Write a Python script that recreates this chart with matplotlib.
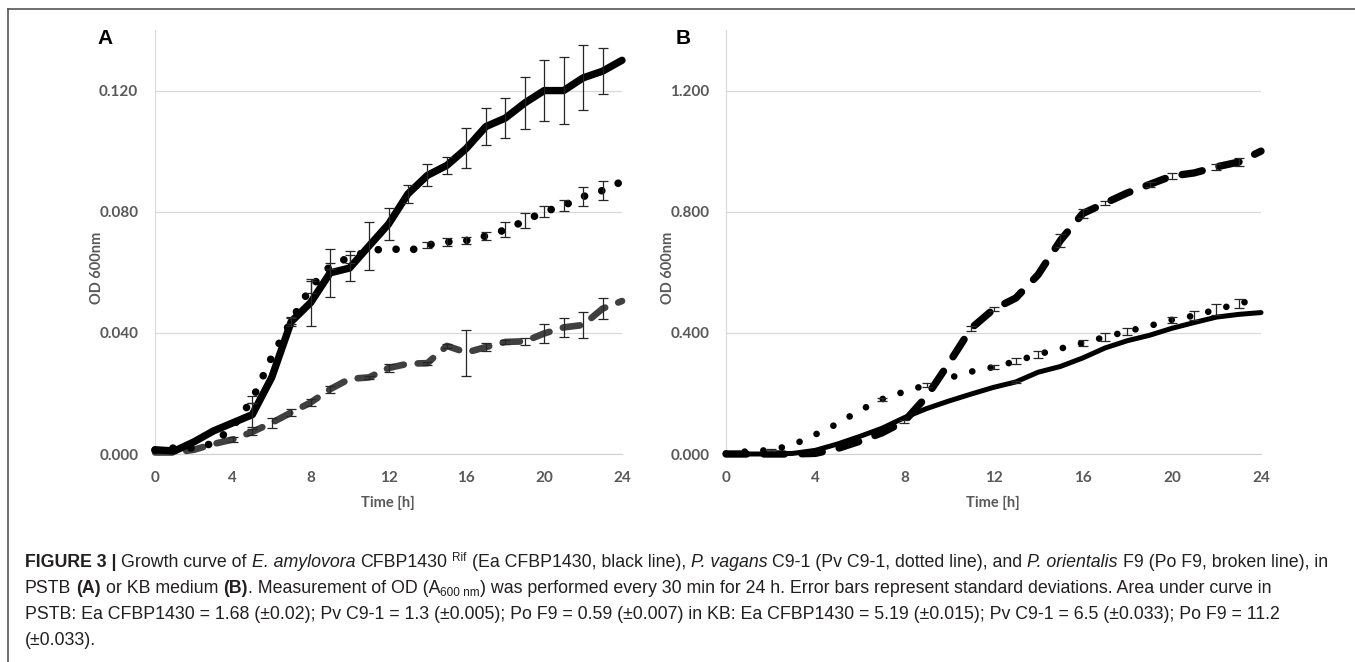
import matplotlib
matplotlib.use('Agg')
import matplotlib.pyplot as plt
from matplotlib.ticker import FormatStrFormatter
from matplotlib.transforms import IdentityTransform

# time points (h)
hours = list(range(25))

# panel A - PSTB
a_ea = [0.0014, 0.001, 0.004, 0.0076, 0.0103, 0.013, 0.0253, 0.0437, 0.050, 0.0598, 0.0614, 0.0687, 0.0759,
        0.0859, 0.092, 0.0953, 0.1009, 0.1081, 0.1109, 0.1159, 0.120, 0.120, 0.1242, 0.1264, 0.130]
a_ea_sd = [0, 0, 0, 0, 0, 0.004, 0, 0.0015, 0.0078, 0.008, 0.0043, 0.008, 0.0053, 0.003, 0.0036, 0.0027,
           0.0066, 0.006, 0.0067, 0.0087, 0.010, 0.011, 0.0107, 0.0076, 0]
a_pv = [0.0013, 0.002, 0.002, 0.0035, 0.009, 0.018, 0.032, 0.044, 0.055, 0.062, 0.065, 0.067, 0.068,
        0.067, 0.069, 0.070, 0.0705, 0.072, 0.074, 0.077, 0.080, 0.082, 0.085, 0.087, 0.090]
a_pv_sd = [0, 0, 0, 0, 0, 0.0012, 0, 0.001, 0.002, 0.001, 0.002, 0, 0, 0, 0.001, 0.0012, 0.001, 0.0012,
           0.0025, 0.0025, 0.0018, 0.0018, 0.003, 0.003, 0]
a_po = [0.0005, 0.0005, 0.0014, 0.0033, 0.0048, 0.0073, 0.0103, 0.0137, 0.017, 0.0214, 0.0248, 0.0253,
        0.0284, 0.0298, 0.030, 0.0357, 0.0335, 0.0353, 0.037, 0.0372, 0.0398, 0.0418, 0.0426, 0.048, 0.0505]
a_po_sd = [0, 0, 0, 0, 0.0008, 0.001, 0.0016, 0.0013, 0.0012, 0.0012, 0, 0.0006, 0.0012, 0, 0.0005, 0.0006,
           0.0076, 0.0013, 0.0008, 0.0012, 0.0032, 0.0032, 0.0042, 0.0035, 0]

# panel B - KB
b_ea = [0, 0, 0, 0.002, 0.012, 0.033, 0.058, 0.085, 0.12, 0.15, 0.175, 0.198, 0.22, 0.238, 0.27,
        0.289, 0.317, 0.35, 0.374, 0.392, 0.415, 0.434, 0.452, 0.461, 0.467]
b_ea_sd = [0, 0, 0, 0, 0, 0, 0, 0, 0, 0, 0, 0, 0, 0.004, 0, 0, 0, 0, 0, 0, 0, 0, 0, 0, 0]
b_pv = [0.002, 0.009, 0.013, 0.03, 0.064, 0.10, 0.144, 0.181, 0.206, 0.228, 0.251, 0.272, 0.287, 0.306,
        0.329, 0.348, 0.367, 0.386, 0.405, 0.423, 0.443, 0.457, 0.477, 0.497, 0.513]
b_pv_sd = [0, 0, 0.004, 0, 0, 0, 0, 0.005, 0, 0.006, 0, 0, 0.006, 0.01, 0.012, 0, 0.01, 0.012, 0.012, 0,
           0.01, 0.015, 0.018, 0.015, 0]
b_po = [0, 0, 0, 0, 0.002, 0.018, 0.042, 0.07, 0.108, 0.19, 0.30, 0.415, 0.478, 0.515, 0.592, 0.705,
        0.794, 0.828, 0.862, 0.89, 0.918, 0.928, 0.948, 0.964, 1.0]
b_po_sd = [0, 0, 0, 0, 0, 0, 0, 0, 0.005, 0, 0, 0.008, 0.006, 0, 0, 0.022, 0.015, 0.006, 0, 0.008, 0.01,
           0, 0.01, 0.012, 0]

xticks = [0, 4, 8, 12, 16, 20, 24]
a_yticks = [0.0, 0.04, 0.08, 0.12]
b_yticks = [0.0, 0.4, 0.8, 1.2]

W, H = 1355, 662
fig = plt.figure(figsize=(W / 100, H / 100), dpi=100)
fig.patch.set_facecolor('white')
px = IdentityTransform()


def add_axes_px(x0, x1, y_top, y_bot):
    return fig.add_axes([x0 / W, 1 - y_bot / H, (x1 - x0) / W, (y_bot - y_top) / H])


def style_axes(ax, ymax, yticks):
    ax.set_xlim(0, 24)
    ax.set_ylim(0, ymax)
    ax.set_xticks(xticks)
    ax.set_yticks(yticks)
    ax.yaxis.set_major_formatter(FormatStrFormatter('%.3f'))
    ax.grid(axis='y', color='#d9d9d9', lw=0.9)
    ax.set_axisbelow(True)
    for s in ['top', 'right']:
        ax.spines[s].set_visible(False)
    ax.spines['left'].set_color('#d9d9d9')
    ax.spines['bottom'].set_color('#d0d0d0')
    ax.tick_params(length=0, pad=12, labelcolor='#595959', labelsize=11)
    for lab in ax.get_xticklabels() + ax.get_yticklabels():
        lab.set_fontfamily('Lato')
        lab.set_fontweight('bold')


def curve(ax, y, sd, color, lw, ls):
    ax.plot(hours, y, color=color, lw=lw, linestyle=ls, dash_capstyle='round',
            solid_capstyle='round', solid_joinstyle='round', clip_on=False, zorder=3)
    idx = [i for i, e in enumerate(sd) if e > 0]
    ax.errorbar([hours[i] for i in idx], [y[i] for i in idx], yerr=[sd[i] for i in idx], fmt='none',
                ecolor='#262626', elinewidth=0.9, capsize=3.5, capthick=0.9, zorder=4)


axA = add_axes_px(155, 622, 30, 454)
style_axes(axA, 0.14, a_yticks)
curve(axA, a_po, a_po_sd, '#404040', 4.8, (0, (2.6, 2.1)))
curve(axA, a_pv, a_pv_sd, 'black', 5.5, (0, (0.01, 2.35)))
curve(axA, a_ea, a_ea_sd, 'black', 5.3, '-')

axB = add_axes_px(726, 1261, 30, 454)
style_axes(axB, 1.4, b_yticks)
curve(axB, b_ea, b_ea_sd, 'black', 3.6, '-')
curve(axB, b_pv, b_pv_sd, 'black', 4.8, (0, (0.01, 2.8)))
curve(axB, b_po, b_po_sd, 'black', 5.3, (0, (2.8, 2.35)))

lab_kw = dict(fontfamily='Lato', fontweight='bold', color='#595959', fontsize=10.5,
              ha='center', va='center', transform=px)
for cx in [97, 668]:
    fig.text(cx, H - 268, 'OD 600nm', rotation=90, **lab_kw)
fig.text(388, H - 503, 'Time [h]', **lab_kw)
fig.text(993, H - 503, 'Time [h]', **lab_kw)

fig.text(105, H - 39, 'A', fontfamily='Liberation Sans', fontweight='bold', fontsize=15,
         ha='center', va='center', transform=px)
fig.text(683, H - 39, 'B', fontfamily='Liberation Sans', fontweight='bold', fontsize=15,
         ha='center', va='center', transform=px)

# frame lines (top and left)
fig.add_artist(plt.Line2D([8, W], [H - 9, H - 9], transform=px, color='#555555', lw=1.2))
fig.add_artist(plt.Line2D([8, 8], [0, H - 9], transform=px, color='#555555', lw=1.2))

# caption
cap_size = 12.8
renderer = fig.canvas.get_renderer()
REG = dict()
BOLD = dict(fontweight='bold')
IT = dict(fontstyle='italic')
SUP = dict(fontsize=8.5, dy=6)
SUB = dict(fontsize=8.5, dy=-3)


def write_line(x, y_img, runs):
    y = H - y_img
    for text, kw in runs:
        kw = dict(kw)
        size = kw.pop('fontsize', cap_size)
        dy = kw.pop('dy', 0)
        if text == ' ':
            x += size * 100 / 72 * 0.278
            continue
        t = fig.text(x, y + dy, text, transform=px, fontfamily='Liberation Sans', fontsize=size,
                     color='#231f20', ha='left', va='baseline', **kw)
        x += t.get_window_extent(renderer).width


S = (' ', REG)
write_line(25, 567, [('FIGURE 3 |', BOLD), S, ('Growth curve of', REG), S, ('E. amylovora', IT), S,
                     ('CFBP1430', REG), S, ('Rif', SUP), S, ('(Ea CFBP1430, black line),', REG), S,
                     ('P. vagans', IT), S, ('C9-1 (Pv C9-1, dotted line), and', REG), S,
                     ('P. orientalis', IT), S, ('F9 (Po F9, broken line), in', REG)])
write_line(25, 593, [('PSTB', REG), S, ('(A)', BOLD), S, ('or KB medium', REG), S, ('(B)', BOLD),
                     ('. Measurement of OD (A', REG), ('600 nm', SUB),
                     (') was performed every 30 min for 24 h. Error bars represent standard deviations. '
                      'Area under curve in', REG)])
write_line(25, 619, [('PSTB: Ea CFBP1430 = 1.68 (\u00b10.02); Pv C9-1 = 1.3 (\u00b10.005); Po F9 = 0.59 '
                      '(\u00b10.007) in KB: Ea CFBP1430 = 5.19 (\u00b10.015); Pv C9-1 = 6.5 (\u00b10.033); '
                      'Po F9 = 11.2', REG)])
write_line(25, 645, [('(\u00b10.033).', REG)])

fig.savefig('out.png', dpi=100)
